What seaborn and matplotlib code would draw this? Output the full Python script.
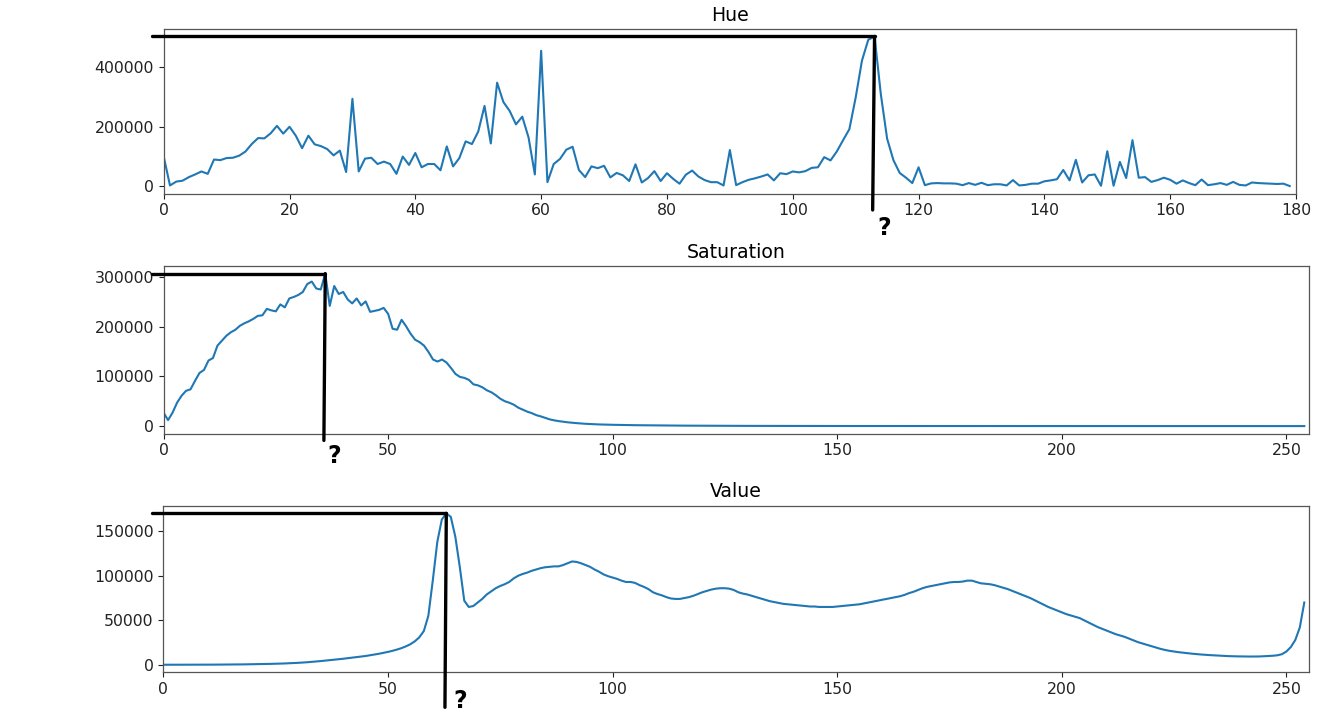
import numpy as np
import matplotlib
matplotlib.use("Agg")
import matplotlib.pyplot as plt
import seaborn as sns
from matplotlib.transforms import blended_transform_factory

# ---------------- data (histogram counts) ----------------
hue_counts = [
    100000, 3000, 16000, 19000, 31000, 40000, 50000, 42000, 90000, 88000,
    95000, 96000, 103000, 117000, 142000, 162000, 161000, 178000, 203000, 177000,
    200000, 170000, 128000, 170000, 141000, 135000, 125000, 104000, 120000, 48000,
    294000, 50000, 93000, 96000, 75000, 83000, 75000, 42000, 100000, 72000,
    112000, 64000, 75000, 75000, 54000, 134000, 67000, 95000, 151000, 142000,
    184000, 270000, 144000, 348000, 283000, 253000, 208000, 234000, 164000, 40000,
    455000, 14000, 75000, 92000, 123000, 133000, 55000, 31000, 67000, 61000,
    69000, 30000, 45000, 37000, 18000, 74000, 13000, 28000, 51000, 18000,
    44000, 25000, 9000, 39000, 53000, 33000, 21000, 14000, 14000, 3000,
    122000, 4000, 14000, 22000, 27000, 33000, 40000, 20000, 44000, 41000,
    50000, 47000, 51000, 62000, 64000, 98000, 87000, 117000, 155000, 192000,
    298000, 422000, 492000, 503000, 309000, 160000, 88000, 45000, 29000, 11000,
    64000, 4000, 10000, 11000, 10000, 10000, 9000, 4000, 11000, 5000,
    12000, 4000, 7000, 7000, 3000, 21000, 3000, 5000, 9000, 9000,
    17000, 20000, 24000, 55000, 20000, 89000, 13000, 37000, 40000, 2000,
    118000, 2000, 82000, 28000, 155000, 29000, 31000, 15000, 21000, 29000,
    22000, 9000, 20000, 11000, 4000, 23000, 4000, 7000, 11000, 5000,
    15000, 5000, 3000, 13000, 11000, 10000, 9000, 8000, 9000, 1000,
]

sat_counts = [
    27000, 12000, 27000, 47000, 61000, 71000, 74000, 91000, 107000, 113000,
    132000, 137000, 162000, 172000, 182000, 189000, 194000, 202000, 207000, 211000,
    216000, 222000, 223000, 236000, 233000, 231000, 245000, 239000, 257000, 260000,
    264000, 270000, 286000, 291000, 277000, 275000, 307000, 242000, 282000, 266000,
    270000, 255000, 247000, 257000, 243000, 251000, 230000, 232000, 234000, 238000,
    226000, 196000, 194000, 214000, 201000, 186000, 174000, 169000, 162000, 149000,
    134000, 130000, 134000, 128000, 117000, 105000, 99000, 97000, 93000, 84000,
    82000, 78000, 72000, 68000, 62000, 55000, 50000, 47000, 43000, 37000,
    33000, 29000, 26000, 22000, 19500, 16500, 13500, 11500, 10000, 8800,
    7600, 6700, 5900, 5200, 4600, 4100, 3700, 3300, 3000, 2800,
    2600, 2400, 2250, 2100, 1950, 1800, 1700, 1600, 1500, 1400,
    1300, 1220, 1150, 1080, 1010, 950, 890, 840, 790, 740,
    700, 660, 625, 590, 560, 530, 500, 475, 450, 430,
    410, 390, 370, 355, 340, 325, 310, 298, 286, 275,
    265, 255, 245, 236, 228, 220, 212, 205, 198, 191,
    185, 179, 173, 168, 163, 158, 153, 149, 145, 141,
    137, 133, 130, 127, 124, 121, 118, 115, 112, 110,
    108, 106, 104, 102, 100, 98, 96, 94, 92, 90,
    88, 86, 84, 82, 80, 78, 76, 74, 72, 70,
    68, 66, 64, 62, 60, 58, 56, 55, 54, 53,
    52, 51, 50, 49, 48, 47, 46, 45, 44, 43,
    42, 41, 40, 39, 38, 37, 36, 35, 34, 33,
    32, 31, 30, 29, 28, 27, 26, 25, 24, 23,
    22, 21, 20, 19, 18, 17, 16, 15, 14, 13,
    12, 11, 10, 9, 8, 7, 6, 5, 4, 3,
    2, 2, 1, 1, 0,
]

val_counts = [
    200, 200, 200, 210, 220, 230, 240, 250, 260, 280,
    300, 320, 350, 380, 410, 450, 500, 560, 620, 700,
    780, 870, 970, 1080, 1200, 1330, 1480, 1650, 1850, 2080,
    2350, 2650, 3000, 3400, 3850, 4300, 4800, 5300, 5800, 6300,
    6900, 7500, 8100, 8700, 9300, 10000, 10800, 11600, 12500, 13500,
    14600, 15800, 17200, 18800, 20800, 23200, 26500, 31000, 38000, 55000,
    95000, 138000, 163000, 170000, 166000, 144000, 110000, 72000, 65000, 66000,
    70000, 74000, 79000, 82500, 86000, 88500, 90500, 93000, 97000, 100000,
    102000, 103500, 105500, 107000, 108500, 109500, 110000, 110500, 110500, 112000,
    114000, 116000, 115500, 114000, 112000, 110000, 107000, 104500, 101500, 99500,
    98000, 96500, 94500, 93000, 93000, 92000, 89500, 87500, 85000, 81500,
    79500, 78000, 76000, 74500, 74000, 74000, 75000, 76000, 77500, 79500,
    81500, 83000, 84500, 85500, 86000, 86000, 85500, 84000, 81500, 80000,
    79000, 77500, 76000, 74500, 73000, 71500, 70500, 69500, 68500, 68000,
    67500, 67000, 66500, 66000, 65500, 65500, 65000, 65000, 65000, 65000,
    65500, 66000, 66500, 67000, 67500, 68000, 69000, 70000, 71000, 72000,
    73000, 74000, 75000, 76000, 77000, 78500, 80500, 82000, 84000, 86000,
    87500, 88500, 89500, 90500, 91500, 92500, 93000, 93000, 93500, 94500,
    94500, 93000, 91500, 91000, 90500, 89500, 88000, 86500, 85000, 83000,
    81000, 79000, 77000, 75000, 72500, 70000, 67500, 65000, 63000, 61000,
    59000, 57000, 55500, 54000, 52500, 50000, 47500, 45000, 42500, 40500,
    38500, 36500, 34500, 33000, 31500, 29500, 27500, 25500, 24000, 22500,
    21000, 19500, 18000, 16800, 15800, 15000, 14300, 13700, 13100, 12600,
    12100, 11700, 11300, 11000, 10700, 10400, 10100, 9900, 9700, 9600,
    9500, 9400, 9400, 9400, 9500, 9700, 10000, 10300, 10800, 12000,
    15000, 20000, 28000, 42000, 70000,
]

titles = ["Hue", "Saturation", "Value"]
series = [hue_counts, sat_counts, val_counts]
x_max = [180, 255, 255]

# ---------------- style ----------------
plt.rcParams["font.family"] = ["DejaVu Sans"]
plt.rcParams["font.size"] = 11.3
plt.rcParams["axes.edgecolor"] = "#555555"
plt.rcParams["axes.linewidth"] = 0.9

fig = plt.figure(figsize=(13.44, 7.11), dpi=100)

# axes rectangles (left, bottom, width, height) in figure fraction
rects = [
    (0.1218, 0.7278, 0.8425, 0.2314),
    (0.1217, 0.3900, 0.8521, 0.2359),
    (0.1215, 0.0544, 0.8523, 0.2343),
]

# hand-drawn style annotation geometry (axes-relative)
vline_bottom = [-0.10, -0.04, -0.21]
qmark_dx = [1.6, 2.0, 3.0]
qmark_y = [-0.21, -0.13, -0.17]

for i, (title, vals, xm, rect) in enumerate(zip(titles, series, x_max, rects)):
    ax = fig.add_axes(rect)
    xs = np.arange(len(vals))
    sns.lineplot(x=xs, y=vals, ax=ax, color="#1f77b4", linewidth=1.5)
    ax.set_xlim(0, xm)
    ax.set_title(title, fontsize="large")
    ax.set_xlabel("")
    ax.set_ylabel("")
    ax.tick_params(colors="#222222", labelcolor="#222222")

    # annotation: horizontal line at the peak, vertical drop, and a question mark
    peak_x = int(np.argmax(vals))
    peak_y = vals[peak_x]
    y0, y1 = ax.get_ylim()
    ax.plot([-0.01 * xm, peak_x], [peak_y, peak_y], color="black", lw=2.4,
            clip_on=False, solid_capstyle="round", zorder=5)
    y_bottom = y0 + vline_bottom[i] * (y1 - y0)
    ax.plot([peak_x, peak_x - 0.3], [peak_y, y_bottom], color="black", lw=2.4,
            clip_on=False, solid_capstyle="round", zorder=5)
    ax.set_ylim(y0, y1)
    trans = blended_transform_factory(ax.transData, ax.transAxes)
    ax.text(peak_x + qmark_dx[i], qmark_y[i], "?", transform=trans,
            ha="center", va="center", fontsize=17, fontweight="bold",
            color="black", clip_on=False)

fig.savefig("out.png", dpi=100)
